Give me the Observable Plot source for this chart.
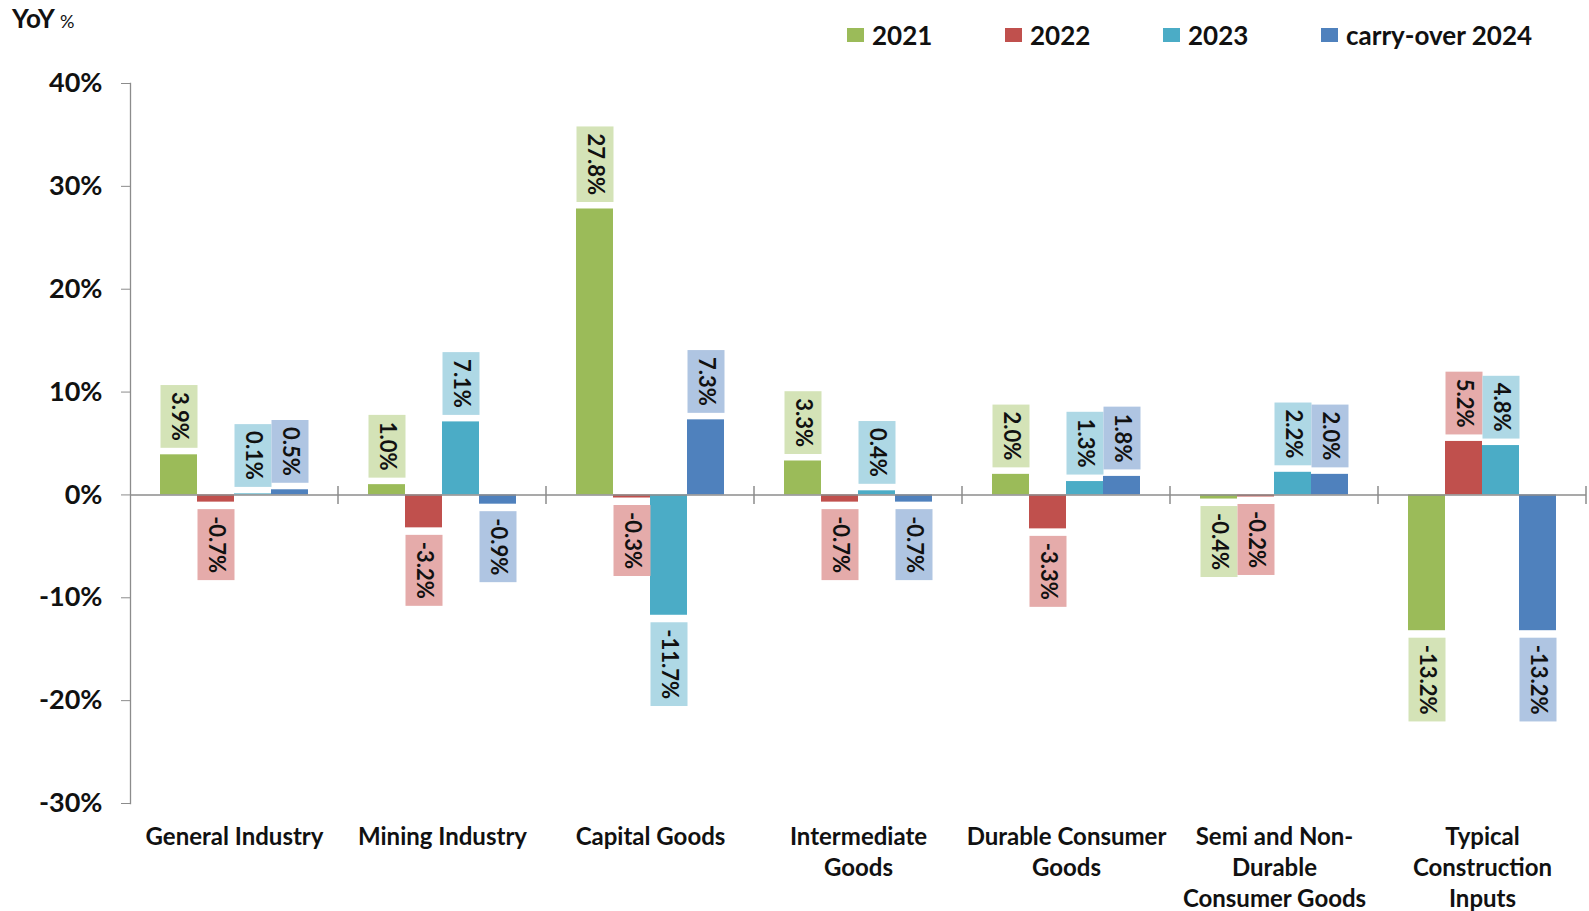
<!DOCTYPE html>
<html><head><meta charset="utf-8">
<script src="https://cdn.jsdelivr.net/npm/d3@7"></script>
<script src="https://cdn.jsdelivr.net/npm/@observablehq/plot@0.6"></script>
<style>
body{margin:0;background:#fff;font-family:Lato,sans-serif;font-weight:bold;color:#111}
#head{position:relative;height:60px;width:1589px}
#yoy{position:absolute;left:12px;top:5px;font-size:26px;line-height:26px}
#yoy span{font-size:18px;font-weight:normal}
#legend{position:absolute;left:847px;top:18px;height:34px;display:flex;align-items:center}
.leg{width:158px;display:flex;align-items:center;font-size:26px;white-space:nowrap}
.leg:last-child{width:auto}
.sw{width:17px;height:14px;margin-right:8px;flex:none}
</style></head><body>
<div id="head"><div id="yoy">YoY <span>%</span></div><div id="legend"></div></div>
<div id="chart"></div>
<script>
const categories = ["General Industry","Mining Industry","Capital Goods","Intermediate Goods","Durable Consumer Goods","Semi and Non-Durable Consumer Goods","Typical Construction Inputs"];
const tickLabels = ["General Industry","Mining Industry","Capital Goods","Intermediate\nGoods","Durable Consumer\nGoods","Semi and Non-\nDurable\nConsumer Goods","Typical\nConstruction\nInputs"];
const years = ["2021","2022","2023","carry-over 2024"];
const v2021 = [3.9, 1.0, 27.8, 3.3, 2.0, -0.4, -13.2];
const v2022 = [-0.7, -3.2, -0.3, -0.7, -3.3, -0.2, 5.2];
const v2023 = [0.1, 7.1, -11.7, 0.4, 1.3, 2.2, 4.8];
const v2024 = [0.5, -0.9, 7.3, -0.7, 1.8, 2.0, -13.2];
const yTicks = [-30, -20, -10, 0, 10, 20, 30, 40];
const barColors = ["#9BBB59","#C0504D","#4BACC6","#4F81BD"];
const boxColors = ["#D4E3B7","#E5ABAA","#AED8E5","#AFC5E2"];

const series = [v2021, v2022, v2023, v2024];
const rows = categories.flatMap((c, i) => years.map((y, j) => ({category: c, year: y, value: series[j][i]})));

const FONT = 'Lato, sans-serif';
const LABEL_SIZE = 22, GAP = 7, PAD = 7;
const ns = "http://www.w3.org/2000/svg";
const mctx = document.createElement("canvas").getContext("2d");
mctx.font = `bold ${LABEL_SIZE}px ${FONT}`;
const fmt = v => v.toFixed(1) + "%";

// legend
const legend = document.getElementById("legend");
years.forEach((y, j) => {
  const it = document.createElement("div"); it.className = "leg";
  const sw = document.createElement("div"); sw.className = "sw"; sw.style.background = barColors[j];
  it.appendChild(sw); it.appendChild(document.createTextNode(y));
  legend.appendChild(it);
});

function bandwidthOf(scales) {
  const x = scales.x;
  if (x && typeof x.bandwidth === "function") return x.bandwidth();
  if (x && typeof x.bandwidth === "number") return x.bandwidth;
  if (scales.scales && scales.scales.x) return scales.scales.x.bandwidth;
  return 37.7;
}

function labels(positive) {
  const data = rows.filter(d => positive ? d.value >= 0 : d.value < 0);
  return Plot.text(data, {
    fx: "category", x: "year", y: "value", text: d => fmt(d.value),
    rotate: 90, textAnchor: positive ? "end" : "start",
    dy: positive ? -(GAP + PAD) : GAP + PAD,
    fontSize: LABEL_SIZE, fontWeight: "bold", fill: "#111",
    render(index, scales, values, dims, ctx, next) {
      const g = next(index, scales, values, dims, ctx);
      const bw = bandwidthOf(scales);
      g.querySelectorAll("text").forEach((t, k) => {
        const d = data[index[k]];
        if (!d) return;
        const L = mctx.measureText(fmt(d.value)).width;
        const r = document.createElementNS(ns, "rect");
        const tr = t.getAttribute("transform");
        if (tr) r.setAttribute("transform", tr);
        r.setAttribute("x", positive ? -L - PAD : -PAD);
        r.setAttribute("width", L + 2 * PAD);
        r.setAttribute("y", -bw / 2);
        r.setAttribute("height", bw);
        r.setAttribute("fill", boxColors[years.indexOf(d.year)]);
        t.parentNode.insertBefore(r, t);
      });
      return g;
    }
  });
}

const chart = Plot.plot({
  width: 1589, height: 851,
  marginTop: 23, marginBottom: 108, marginLeft: 129, marginRight: 2,
  style: {fontFamily: FONT, fontWeight: "bold", color: "#111", background: "#fff", overflow: "visible"},
  fx: {domain: categories, padding: 0},
  x: {domain: years, paddingInner: 0, paddingOuter: 0.76, axis: null},
  y: {domain: [-30, 40]},
  color: {domain: years, range: barColors},
  marks: [
    Plot.frame({anchor: "left", facetAnchor: "left", stroke: "#8c8c8c", strokeWidth: 1.3}),
    Plot.axisY({ticks: yTicks, tickFormat: d => d + "%", tickSize: 9, tickPadding: 19, fontSize: 27, stroke: "#8c8c8c", label: null}),
    Plot.axisFx({anchor: "bottom", tickSize: 0, tickPadding: 19, fontSize: 24, lineHeight: 31 / 24, tickFormat: c => tickLabels[categories.indexOf(c)], label: null}),
    Plot.barY(rows, {fx: "category", x: "year", y: "value", fill: "year"}),
    Plot.ruleY([0], {stroke: "#8c8c8c", strokeWidth: 1.5, render(index, scales, values, dims, ctx, next) {
      const g = next(index, scales, values, dims, ctx);
      const ln = g.querySelector("line");
      if (ln) {
        const x2 = ln.getAttribute("x2"), y = +ln.getAttribute("y1");
        const tk = document.createElementNS(ns, "line");
        tk.setAttribute("x1", x2); tk.setAttribute("x2", x2);
        tk.setAttribute("y1", y - 9); tk.setAttribute("y2", y + 9);
        ln.parentNode.appendChild(tk);
      }
      return g;
    }}),
    labels(true),
    labels(false)
  ]
});
document.getElementById("chart").appendChild(chart);
</script>
</body></html>
